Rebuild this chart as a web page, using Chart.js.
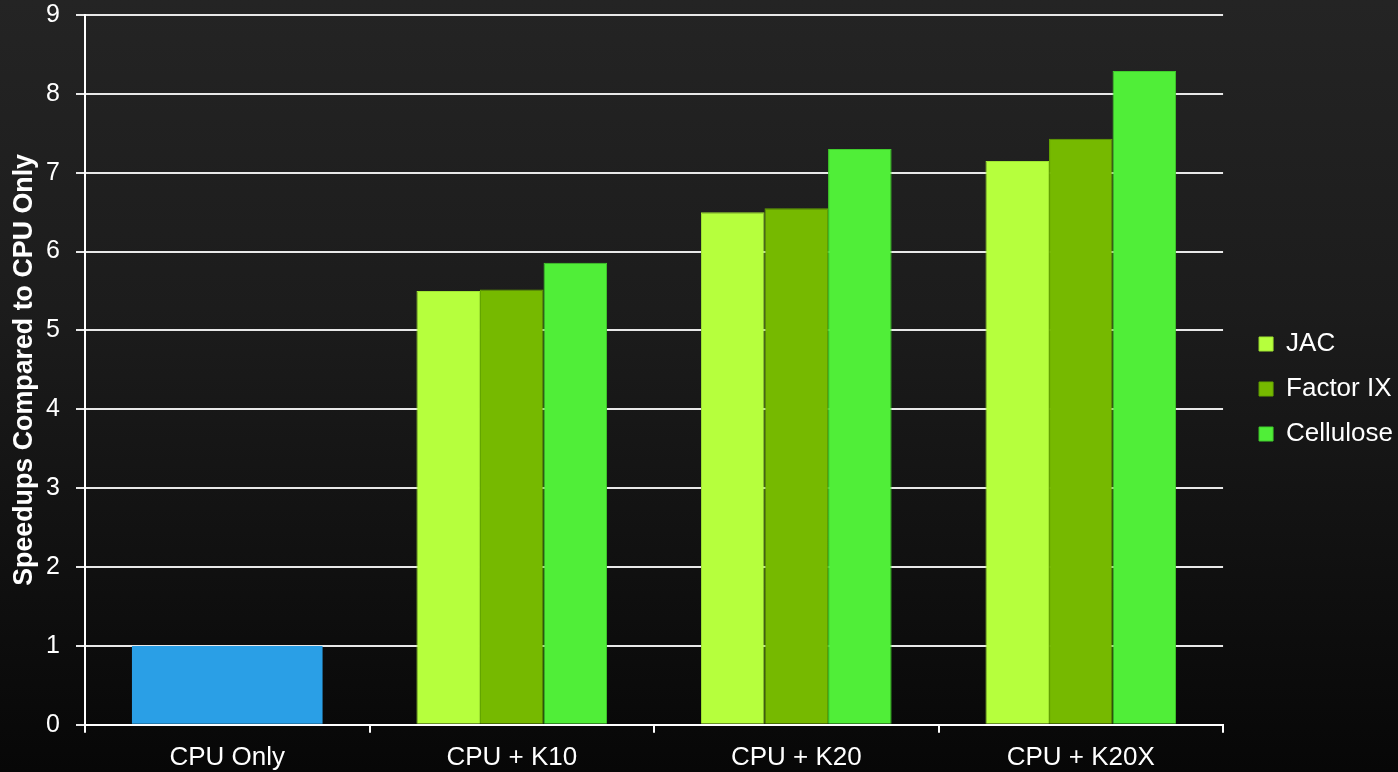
<!DOCTYPE html>
<html>
<head>
<meta charset="utf-8">
<script src="https://cdn.jsdelivr.net/npm/chart.js@4/dist/chart.umd.min.js"></script>
<style>
  html, body { margin: 0; padding: 0; }
  body {
    width: 1398px;
    height: 772px;
    background: linear-gradient(to bottom, #242424 0%, #1c1c1c 40%, #070707 100%);
    overflow: hidden;
  }
  #wrap { position: relative; width: 1398px; height: 772px; }
</style>
</head>
<body>
<div id="wrap"><canvas id="speedChart"></canvas></div>
<script>
const categories = ["CPU Only", "CPU + K10", "CPU + K20", "CPU + K20X"];
const cpuOnly = [1, null, null, null];
const jac = [null, 5.5, 6.5, 7.15];
const factorIX = [null, 5.52, 6.55, 7.43];
const cellulose = [null, 5.86, 7.3, 8.29];

const CPU_COLOR = "rgb(42,159,230)";
const JAC_COLOR = "rgb(182,255,61)";
const FACTOR_COLOR = "rgb(118,185,0)";
const CELLULOSE_COLOR = "rgb(80,238,56)";

const FONT = "'Liberation Sans', Arial, sans-serif";

const drawSpeedChart = () => {
    const inputData = {
        labels: categories,
        datasets: [
            {
                label: "CPU Only",
                data: cpuOnly,
                backgroundColor: CPU_COLOR,
                borderWidth: 0,
                // own full-width bar, not part of the green group
                grouped: false,
                categoryPercentage: 0.67,
                barPercentage: 1
            },
            {
                label: "JAC",
                data: jac,
                backgroundColor: JAC_COLOR,
                borderColor: "rgb(160,228,50)",
                borderWidth: 1,
                categoryPercentage: 0.67,
                barPercentage: 1
            },
            {
                label: "Factor IX",
                data: factorIX,
                backgroundColor: FACTOR_COLOR,
                borderColor: "rgb(100,165,0)",
                borderWidth: 1,
                categoryPercentage: 0.67,
                barPercentage: 1
            },
            {
                label: "Cellulose",
                data: cellulose,
                backgroundColor: CELLULOSE_COLOR,
                borderColor: "rgb(64,205,44)",
                borderWidth: 1,
                categoryPercentage: 0.67,
                barPercentage: 1
            }
        ]
    };

    const options = {
        responsive: false,
        animation: false,
        layout: { padding: { left: 0, top: -4, right: -5, bottom: -10 } },
        plugins: {
            legend: {
                position: "right",
                labels: {
                    color: "#ffffff",
                    font: { family: FONT, size: 26 },
                    boxWidth: 14,
                    boxHeight: 14,
                    padding: 19,
                    filter: item => item.text !== "CPU Only"
                }
            },
            tooltip: { enabled: false }
        },
        scales: {
            x: {
                offset: true,
                grid: {
                    offset: true,
                    drawOnChartArea: false,
                    color: "#ffffff",
                    lineWidth: 2,
                    tickLength: 8
                },
                border: { color: "#ffffff", width: 2 },
                ticks: {
                    color: "#ffffff",
                    font: { family: FONT, size: 26, lineHeight: 1.2 },
                    padding: 9,
                    maxRotation: 0
                }
            },
            y: {
                min: 0,
                max: 9,
                ticks: {
                    stepSize: 1,
                    color: "#ffffff",
                    font: { family: FONT, size: 25 },
                    padding: 16
                },
                grid: {
                    color: "#e8e8e8",
                    lineWidth: 2,
                    tickLength: 9
                },
                border: { color: "#ffffff", width: 2 },
                title: {
                    display: true,
                    text: "Speedups Compared to CPU Only",
                    color: "#ffffff",
                    font: { family: FONT, size: 26.8, weight: "bold", lineHeight: 1 },
                    padding: { top: 11, bottom: 0 }
                },
                afterFit: scale => {
                    scale.width = 85;
                    scale.paddingTop = 15;
                }
            },
            // empty right axis, only keeps a gap between plot and legend
            gap: {
                type: "linear",
                position: "right",
                grid: { display: false, drawTicks: false },
                border: { display: false },
                ticks: { display: false },
                afterFit: scale => { scale.width = 17; }
            }
        }
    };

    const ctx = document.getElementById("speedChart").getContext("2d");
    ctx.canvas.width = 1398;
    ctx.canvas.height = 772;

    return new Chart(ctx, {
        type: "bar",
        data: inputData,
        options: options
    });
};

drawSpeedChart();
</script>
</body>
</html>
